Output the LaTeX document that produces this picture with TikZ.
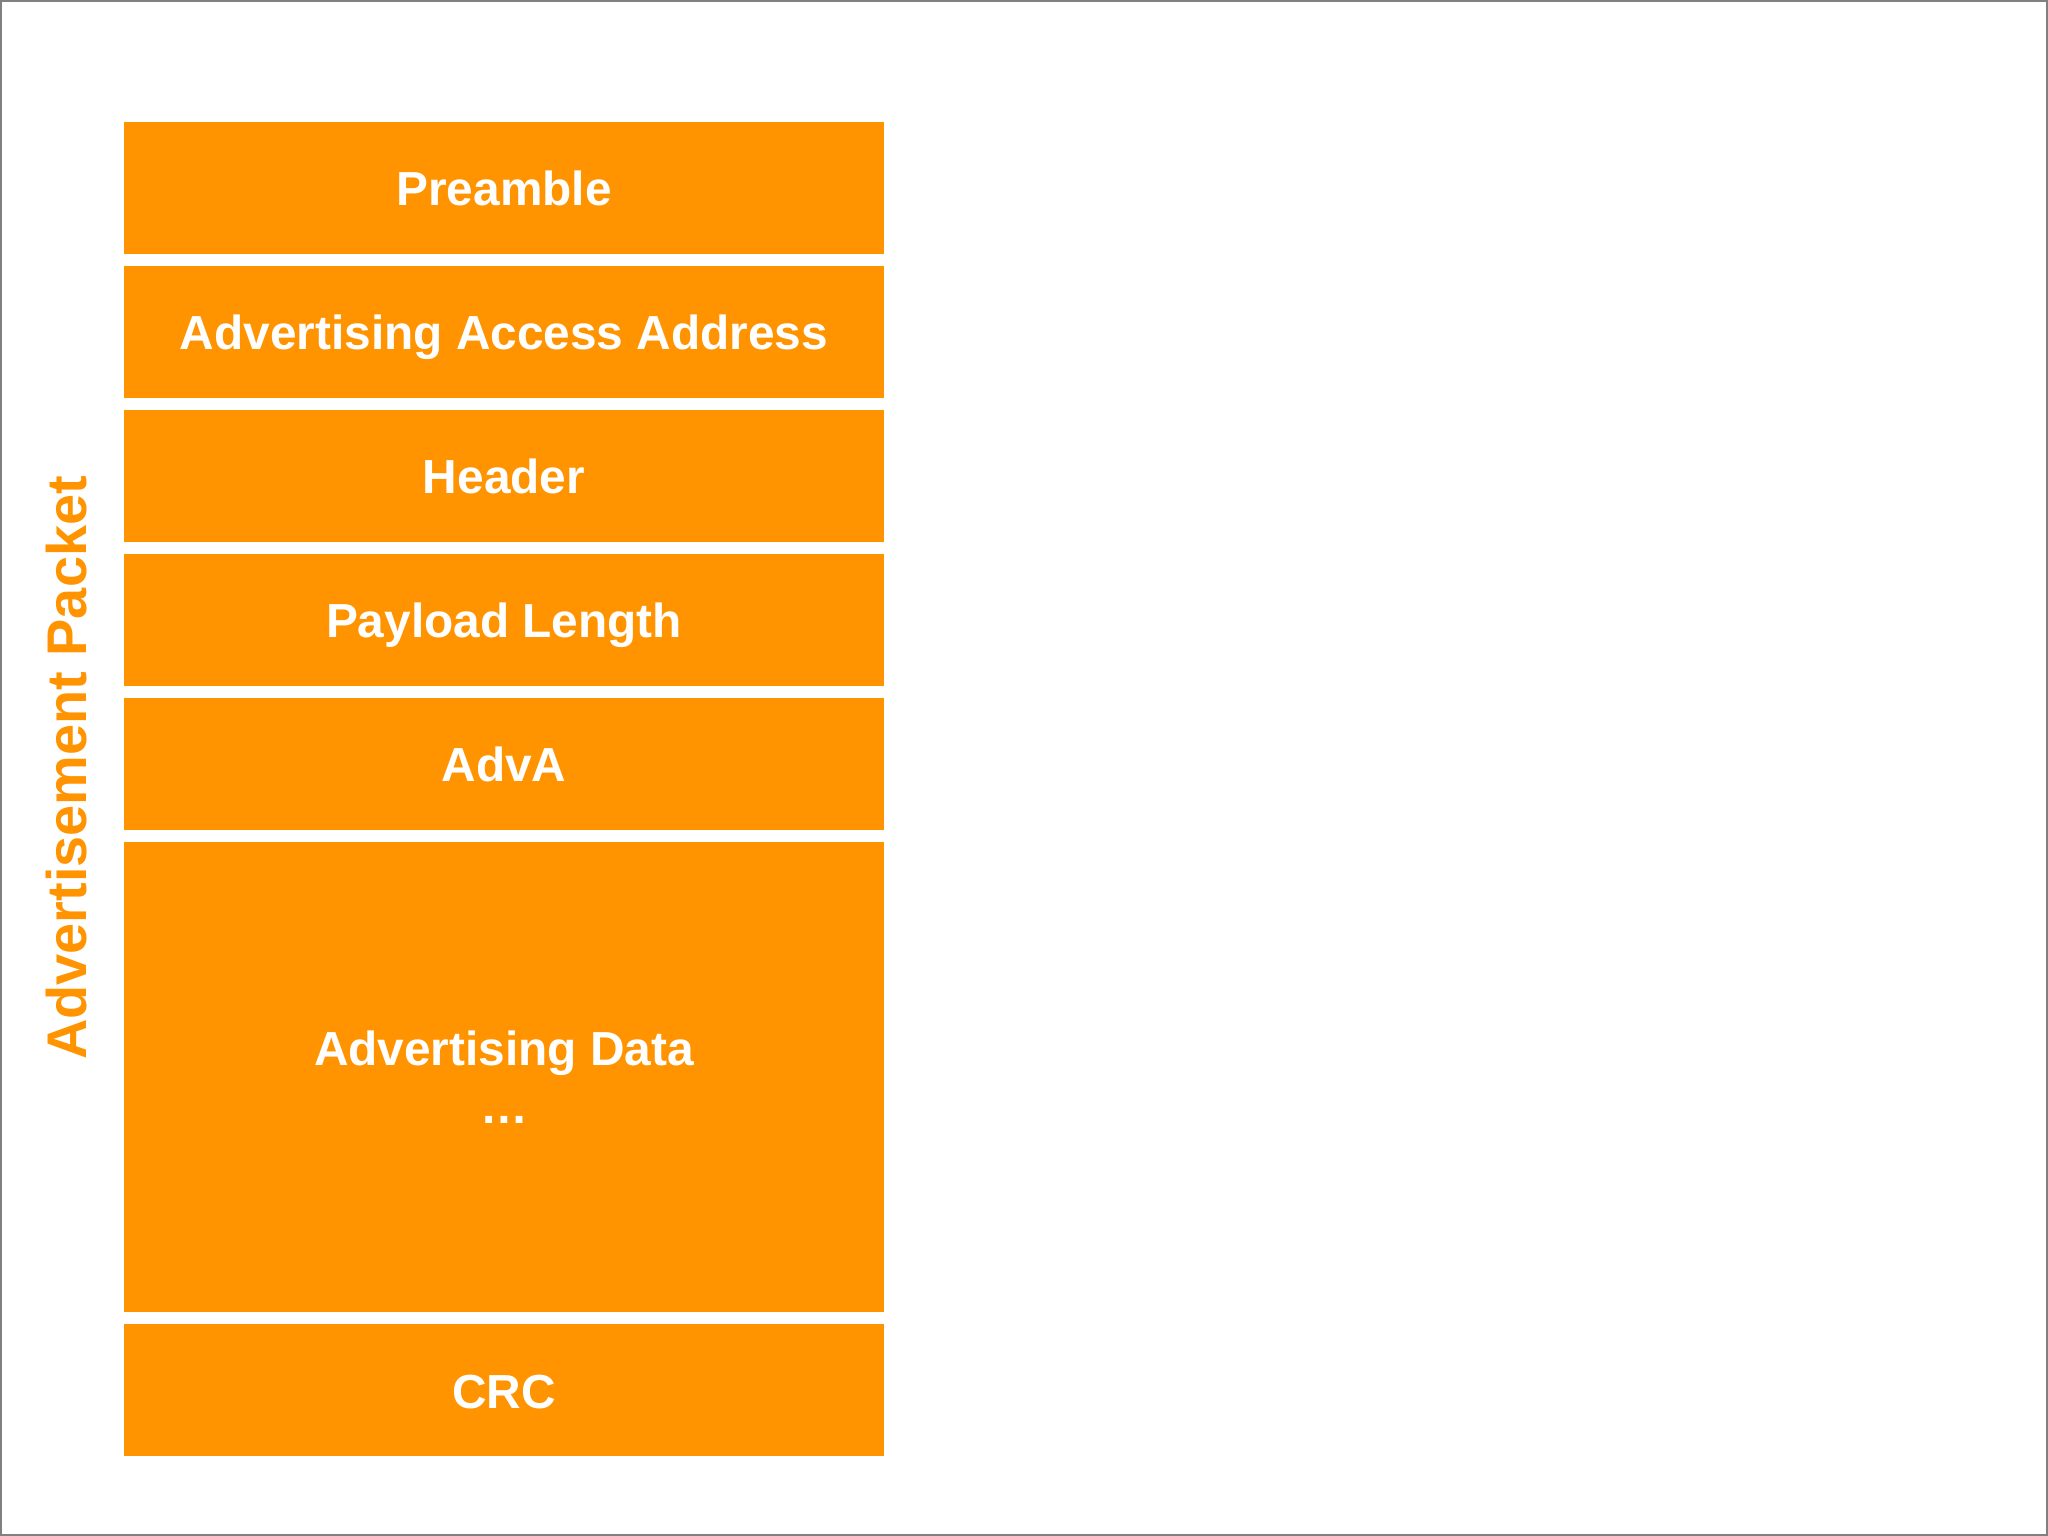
\documentclass[tikz,border=0pt]{standalone}
\usepackage{fontspec}
\setmainfont{Liberation Sans}
\usetikzlibrary{positioning}

\definecolor{pktorange}{RGB}{255,148,0}
\definecolor{framegray}{RGB}{128,128,128}

\tikzset{
	fieldbox/.style = {fill=pktorange, text=white, inner sep=0pt, outer sep=0pt, align=center,
		minimum width=7.6cm, font=\bfseries\fontsize{13.6}{16.5}\selectfont},
	field/.style = {fieldbox, minimum height=1.317cm, text height=10.3pt, text depth=0pt},
	packettitle/.style = {rotate=90, text=pktorange, inner sep=0pt,
		font=\bfseries\fontsize{15.9}{19}\selectfont}
}

\begin{document}
\begin{tikzpicture}[node distance = 0.123cm]
	\useasboundingbox (0,0) rectangle (20.48,-15.36);
	\draw[framegray, line width=0.6pt] (0.01,-0.01) rectangle (20.47,-15.35);
	
	\node[field] (preamble) at (5.04,-1.8785) {Preamble};
	\node[field, below=of preamble] (access) {Advertising Access Address};
	\node[field, below=of access] (header) {Header};
	\node[field, below=of header] (length) {Payload Length};
	\node[field, below=of length] (adva) {AdvA};
	\node[fieldbox, below=of adva, minimum height=4.70cm] (data) {Advertising Data\\…};
	\node[field, below=of data] (crc) {CRC};
	
	\node[packettitle] (title) at (0.67,-7.68) {Advertisement Packet};
\end{tikzpicture}
\end{document}
